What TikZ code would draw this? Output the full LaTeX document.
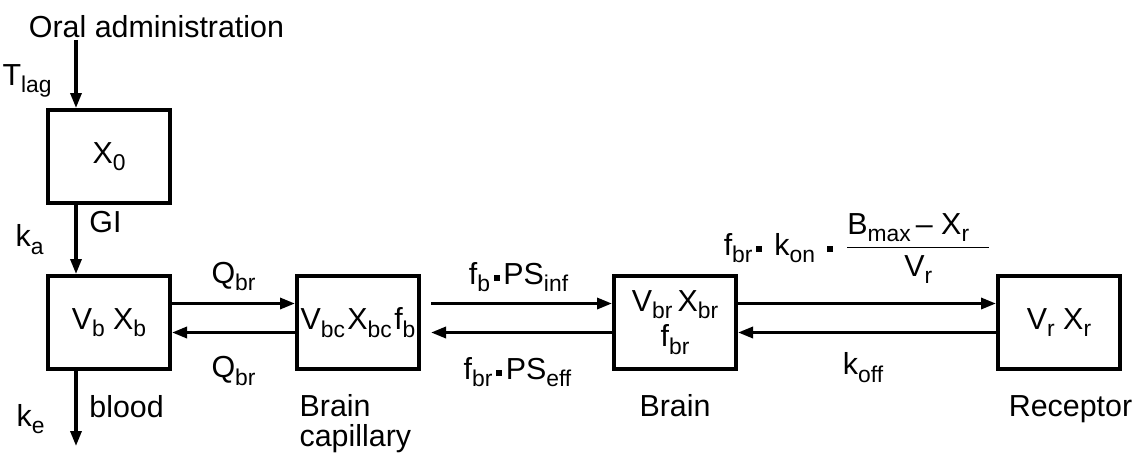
\documentclass[tikz,border=0pt]{standalone}
\usepackage{amsmath}
\usepackage{fontspec}
\setmainfont{Liberation Sans}
\usetikzlibrary{arrows.meta, positioning}
\newcommand{\lowsc}[1]{\raisebox{-0.24em}{\fontsize{13}{13}\selectfont #1}}
\newcommand{\sqdot}{\hspace{0.12em}\rule[0.1em]{0.2em}{0.2em}\hspace{0.12em}}

\begin{document}
\begin{tikzpicture}[
    node distance=1.38cm and 2.46cm,
    box/.style={draw, line width=0.08cm, minimum width=2.44cm, minimum height=1.86cm, inner sep=1pt, font=\fontsize{17.3}{20}\selectfont, align=center},
    flow/.style={-{Triangle[length=0.3cm, width=0.22cm]}, line width=0.065cm},
    lbl/.style={font=\fontsize{17.3}{17.5}\selectfont, inner sep=1pt},
]
\useasboundingbox (0,0) rectangle (22.68,-9.14);
% compartments
\node[box] (X0) at (2.18,-3.13) {X\lowsc{0}};
\node[box, below=of X0] (blood) {V\lowsc{b} X\lowsc{b}};
\node[box, right=of blood] (cap) {V\lowsc{bc}\hspace{0.08em}X\lowsc{bc}\hspace{0.08em}f\lowsc{b}};
\node[box, right=3.82cm of cap] (brain) {V\lowsc{br}\,X\lowsc{br}\\f\lowsc{br}};
\node[box, right=5.16cm of brain] (rec) {V\lowsc{r} X\lowsc{r}};
% dosing and elimination
\node[lbl, anchor=base] (oral) at (3.13,-0.75) {Oral administration};
\coordinate (inlet) at ([xshift=-0.66cm]X0.north);
\coordinate (elim) at ([xshift=-0.66cm,yshift=-1.5cm]blood.south);
\draw[flow] (oral.south -| inlet) -- node[lbl, pos=0.6, left=0.42cm] {T\lowsc{lag}} (inlet);
\draw[flow] ([xshift=-0.66cm]X0.south) -- node[lbl, pos=0.25, right=0.2cm] {GI} node[lbl, pos=0.5, left=0.58cm] {k\lowsc{a}} ([xshift=-0.66cm]blood.north);
\draw[flow] ([xshift=-0.66cm]blood.south) -- node[lbl, pos=0.47, right=0.2cm] {blood} node[lbl, pos=0.64, left=0.56cm] {k\lowsc{e}} (elim);
% exchange
\draw[flow] ([yshift=0.38cm]blood.east) -- node[lbl, yshift=0.54cm] {Q\lowsc{br}} ([yshift=0.38cm]cap.west);
\draw[flow] ([yshift=-0.2cm]cap.west) -- node[lbl, yshift=-0.77cm] {Q\lowsc{br}} ([yshift=-0.2cm]blood.east);
\draw[flow] ([shift={(0.2cm,0.38cm)}]cap.east) -- node[lbl, xshift=-0.06cm, yshift=0.53cm] {f\lowsc{b}\sqdot PS\lowsc{inf}} ([yshift=0.38cm]brain.west);
\draw[flow] ([yshift=-0.2cm]brain.west) -- node[lbl, xshift=-0.08cm, yshift=-0.79cm] {f\lowsc{br}\sqdot PS\lowsc{eff}} ([shift={(0.2cm,-0.2cm)}]cap.east);
\draw[flow] ([yshift=0.38cm]brain.east) -- node[lbl, xshift=-0.19cm, yshift=1.1cm] {f\lowsc{br}\sqdot\ k\lowsc{on}\ \sqdot\ $\dfrac{\text{B\lowsc{max}\,– X\lowsc{r}}\hspace{0.4cm}}{\text{V\lowsc{r}}}$} ([yshift=0.38cm]rec.west);
\draw[flow] ([yshift=-0.2cm]rec.west) -- node[lbl, xshift=-0.08cm, yshift=-0.7cm] {k\lowsc{off}} ([yshift=-0.2cm]brain.east);
% captions
\node[lbl, anchor=north west, align=left] (caplbl) at ([shift={(0.05cm,-0.42cm)}]cap.south west) {Brain\\capillary};
\node[lbl, anchor=base] (brainlbl) at ([yshift=-0.9cm]brain.south) {Brain};
\node[lbl, anchor=base] (reclbl) at ([xshift=0.23cm,yshift=-0.9cm]rec.south) {Receptor};
\end{tikzpicture}
\end{document}
